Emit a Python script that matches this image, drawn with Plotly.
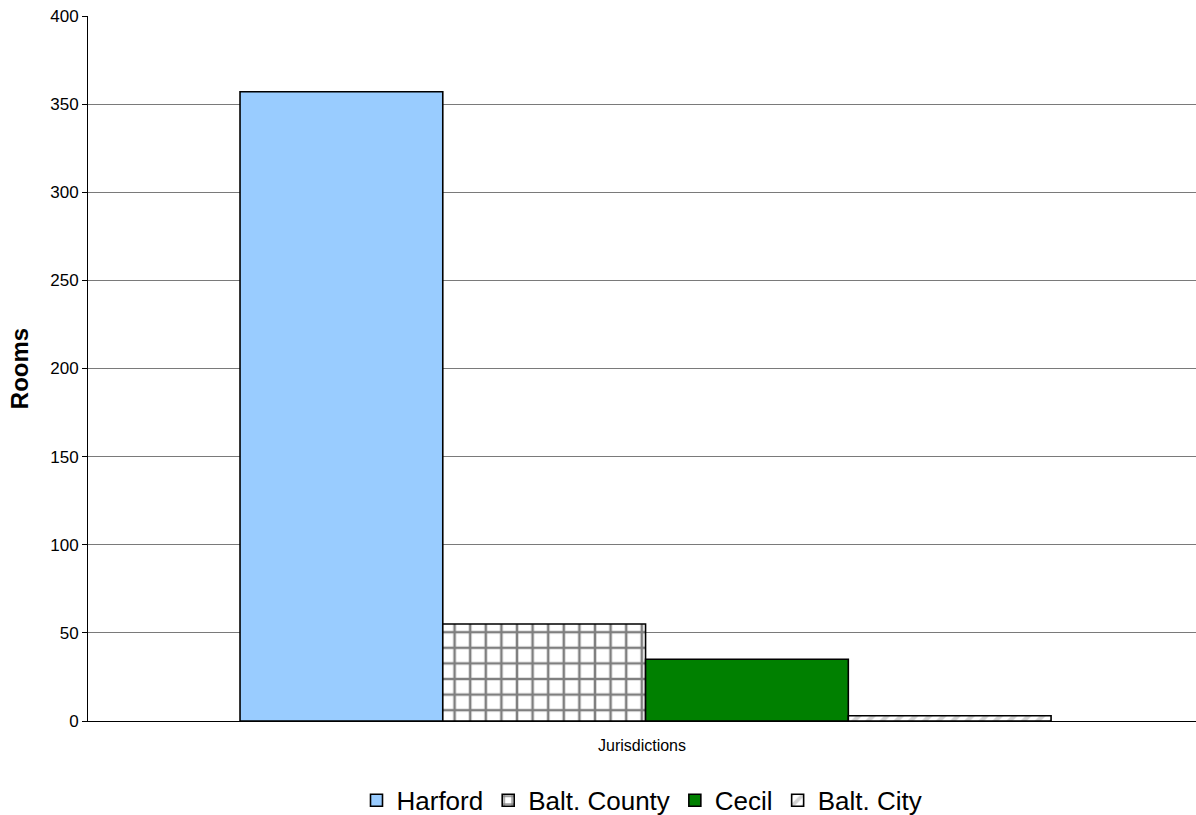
import plotly.graph_objects as go

# Rooms per jurisdiction
jurisdictions = ["Harford", "Balt. County", "Cecil", "Balt. City"]
rooms = [357, 55, 35, 3]
category = ["Jurisdictions"]

fills = ["#99CCFF", "#FFFFFF", "#008000", "#FFFFFF"]
patterns = [
    dict(shape=""),
    dict(shape="+", fgcolor="#000000", bgcolor="#FFFFFF", size=15.6, solidity=0.3),
    dict(shape=""),
    dict(shape="/", fgcolor="#A8A8A8", bgcolor="#FFFFFF", size=10, solidity=0.45),
]

fig = go.Figure()
for name, val, col, pat in zip(jurisdictions, rooms, fills, patterns):
    fig.add_trace(go.Bar(
        name=name,
        x=category,
        y=[val],
        marker=dict(color=col, pattern=pat, line=dict(color="#000000", width=1.6)),
    ))

fig.update_layout(
    width=1196, height=815,
    margin=dict(l=88, r=0, t=16, b=94, autoexpand=False),
    paper_bgcolor="white", plot_bgcolor="white",
    barmode="group", bargap=0.268, bargroupgap=0,
    font=dict(family="Liberation Sans, Arial, sans-serif", color="#000000"),
    showlegend=True,
    legend=dict(orientation="h", x=0.5, xanchor="center",
                yref="container", y=0.018, yanchor="middle",
                font=dict(size=26), itemwidth=30, tracegroupgap=0),
    xaxis=dict(showticklabels=False, ticks="", showline=True, linecolor="#000000",
               linewidth=1, automargin=False,
               title=dict(text="Jurisdictions", font=dict(size=16), standoff=18),
               range=[-0.5032, 0.4968]),
    yaxis=dict(range=[0, 400], dtick=50, ticks="outside", ticklen=5, tickcolor="#000000",
               showline=True, linecolor="#000000", linewidth=1, automargin=False,
               showgrid=True, gridcolor="#7a7a7a", gridwidth=1,
               tickfont=dict(size=17), zeroline=False,
               title=dict(text="<b>Rooms</b>", font=dict(size=24), standoff=14)),
)

fig.write_html("out.html")
